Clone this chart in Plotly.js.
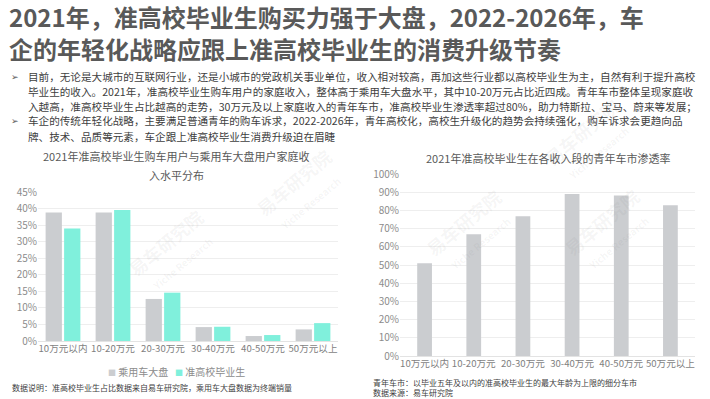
<!DOCTYPE html>
<html><head><meta charset="utf-8">
<script src="https://cdn.plot.ly/plotly-3.0.1.min.js"></script>
<style>html,body{margin:0;padding:0;background:#fff}#chart{width:710px;height:399px}</style>
</head><body><div id="chart"></div>
<script>
// ---- data ----
const categories = ["10万元以内","10-20万元","20-30万元","30-40万元","40-50万元","50万元以上"];
const marketShare = [38.8, 38.8, 12.7, 4.2, 1.5, 3.5];       // 乘用车大盘 (%)
const graduateShare = [34.0, 39.6, 14.6, 4.3, 1.8, 5.4];     // 准高校毕业生 (%)
const penetration = [51.0, 67.0, 76.9, 89.2, 88.4, 82.9];    // 青年车市渗透率 (%)
const leftTicks = [0,5,10,15,20,25,30,35,40,45];
const rightTicks = [0,10,20,30,40,50,60,70,80,90,100];
const seriesNames = ["乘用车大盘","准高校毕业生"];

const titleLines = ["2021年，准高校毕业生购买力强于大盘，2022-2026年，车","企的年轻化战略应跟上准高校毕业生的消费升级节奏"];
const bodyLines = [
 ["➢","目前，无论是大城市的互联网行业，还是小城市的党政机关事业单位，收入相对较高，再加这些行业都以高校毕业生为主，自然有利于提升高校"],
 ["","毕业生的收入。2021年，准高校毕业生购车用户的家庭收入，整体高于乘用车大盘水平，其中10-20万元占比近四成。青年车市整体呈现家庭收"],
 ["","入越高，准高校毕业生占比越高的走势，30万元及以上家庭收入的青年车市，准高校毕业生渗透率超过80%，助力特斯拉、宝马、蔚来等发展；"],
 ["➢","车企的传统年轻化战略，主要满足普通青年的购车诉求，2022-2026年，青年高校化，高校生升级化的趋势会持续强化，购车诉求会更趋向品"],
 ["","牌、技术、品质等元素，车企跟上准高校毕业生消费升级迫在眉睫"]
];
const leftTitle = ["2021年准高校毕业生购车用户与乘用车大盘用户家庭收","入水平分布"];
const rightTitle = "2021年准高校毕业生在各收入段的青年车市渗透率";
const leftNote = "数据说明：准高校毕业生占比数据来自易车研究院，乘用车大盘数据为终端销量";
const rightNotes = ["青年车市：以毕业五年及以内的准高校毕业生的最大年龄为上限的细分车市","数据来源：易车研究院"];

const W = 710, H = 399;
const px = x => x / W, py = y => 1 - y / H;
const FONT = '"Noto Sans CJK SC","Noto Sans",sans-serif';
const GRAY = '#cbcdd0', TEAL = '#80f0dc';

const traces = [
 {type:'bar', x:categories, y:marketShare, name:seriesNames[0], marker:{color:GRAY}, xaxis:'x', yaxis:'y', hoverinfo:'none'},
 {type:'bar', x:categories, y:graduateShare, name:seriesNames[1], marker:{color:TEAL}, xaxis:'x', yaxis:'y', hoverinfo:'none'},
 {type:'bar', x:categories, y:penetration, name:'渗透率', marker:{color:GRAY}, xaxis:'x2', yaxis:'y2', width:0.3, hoverinfo:'none'}
];

const ann = [];
titleLines.forEach((t,i)=>ann.push({text:t, x:px(7), y:py(17+i*31), xref:'paper', yref:'paper', xanchor:'left', yanchor:'middle', showarrow:false, font:{family:FONT, size:24, color:'#595959', weight:700}}));
bodyLines.forEach((l,i)=>{
  const y = py(76+i*15);
  if (l[0]) ann.push({text:l[0], x:px(9), y:y, xref:'paper', yref:'paper', xanchor:'left', yanchor:'middle', showarrow:false, font:{family:FONT, size:9, color:'#595959'}});
  ann.push({text:l[1], x:px(26), y:y, xref:'paper', yref:'paper', xanchor:'left', yanchor:'middle', showarrow:false, font:{family:FONT, size:10.6, color:'#404040'}});
});
leftTitle.forEach((t,i)=>ann.push({text:t, x:px(176), y:py(156+i*19), xref:'paper', yref:'paper', xanchor:'center', yanchor:'middle', showarrow:false, font:{family:FONT, size:11, color:'#595959'}}));
ann.push({text:rightTitle, x:px(548), y:py(158), xref:'paper', yref:'paper', xanchor:'center', yanchor:'middle', showarrow:false, font:{family:FONT, size:11, color:'#595959'}});
ann.push({text:leftNote, x:px(10), y:py(387), xref:'paper', yref:'paper', xanchor:'left', yanchor:'middle', showarrow:false, font:{family:FONT, size:8, color:'#404040'}});
rightNotes.forEach((t,i)=>ann.push({text:t, x:px(371), y:py(382+i*10), xref:'paper', yref:'paper', xanchor:'left', yanchor:'middle', showarrow:false, font:{family:FONT, size:8, color:'#404040'}}));
// legend (as text)
ann.push({text:'<span style="color:'+GRAY+';font-size:8px">■</span> '+seriesNames[0]+'   <span style="color:'+TEAL+';font-size:8px">■</span> '+seriesNames[1],
  x:px(176), y:py(371), xref:'paper', yref:'paper', xanchor:'center', yanchor:'middle', showarrow:false, font:{family:FONT, size:10, color:'#8c8c8c'}});
// faint watermarks
[[120,300],[300,190],[470,280],[660,230],[640,140]].forEach(p=>{
  ann.push({text:'易车研究院<br><span style="font-size:10px">Yiche Research</span>', x:px(p[0]), y:py(p[1]), xref:'paper', yref:'paper', showarrow:false, textangle:-40, font:{family:FONT, size:18, color:'rgba(120,120,120,0.07)', weight:700}});
});

const axFont = {family:FONT, size:10, color:'#8c8c8c'};
const xFont = {family:FONT, size:9.6, color:'#7f7f7f'};
const layout = {
  width:W, height:H, margin:{l:0,r:0,t:0,b:0}, paper_bgcolor:'#fff', plot_bgcolor:'#fff',
  barmode:'group', bargap:0.26, bargroupgap:0.12, showlegend:false,
  xaxis:{domain:[px(38),px(338)], anchor:'y', tickfont:xFont, tickangle:0, showline:false, ticks:'', fixedrange:true},
  yaxis:{domain:[py(341),py(192)], anchor:'x', range:[0,45], tickvals:leftTicks, ticktext:leftTicks.map(v=>v+'%'), tickfont:axFont, gridcolor:'#eeeeee', zeroline:true, zerolinecolor:'#e3e3e3', ticks:'', fixedrange:true},
  xaxis2:{domain:[px(400),px(695)], anchor:'y2', tickfont:xFont, tickangle:0, showline:false, ticks:'', fixedrange:true},
  yaxis2:{domain:[py(356),py(174.3)], anchor:'x2', range:[0,100], tickvals:rightTicks, ticktext:rightTicks.map(v=>v+'%'), tickfont:axFont, gridcolor:'#eeeeee', zeroline:true, zerolinecolor:'#e3e3e3', ticks:'', fixedrange:true},
  annotations:ann
};
Plotly.newPlot('chart', traces, layout, {staticPlot:true, displayModeBar:false});
</script></body></html>
